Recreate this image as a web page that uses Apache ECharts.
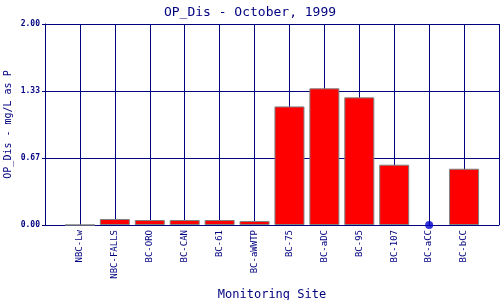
<!DOCTYPE html>
<html>
<head>
<meta charset="utf-8">
<script src="https://cdn.jsdelivr.net/npm/echarts@6/dist/echarts.min.js"></script>
<style>html,body{margin:0;padding:0;background:#fff}#c{width:500px;height:300px}</style>
</head>
<body>
<div id="c"></div>
<script>
const categories = ['NBC-Lw','NBC-FALLS','BC-ORO','BC-CAN','BC-61','BC-aWWTP','BC-75','BC-aDC','BC-95','BC-107','BC-aCC','BC-bCC'];
const values = [0, 0.06, 0.05, 0.05, 0.05, 0.04, 1.18, 1.36, 1.27, 0.60, null, 0.56];
const pointValues = [null, null, null, null, null, null, null, null, null, null, 0, null];
const yTicks = [0, 0.67, 1.33, 2.00];

const navy = '#000080';
const font = 'DejaVu Sans Mono';
const cats = [''].concat(categories, ['']);
const pad = a => [null].concat(a, [null]);

const chart = echarts.init(document.getElementById('c'), null, {renderer: 'canvas'});
chart.setOption({
  animation: false,
  backgroundColor: '#fff',
  title: {
    text: 'OP_Dis - October, 1999', left: 'center', top: 1,
    textStyle: {fontFamily: font, fontSize: 13, fontWeight: 'normal', color: navy}
  },
  grid: {left: 45, right: 1, top: 24, bottom: 75, containLabel: false, outerBoundsMode: 'none'},
  xAxis: {
    type: 'category', data: cats, boundaryGap: false,
    name: 'Monitoring Site', nameLocation: 'middle', nameGap: 64, nameMoveOverlap: false,
    nameTextStyle: {fontFamily: font, fontSize: 12, color: navy},
    axisLine: {lineStyle: {color: navy, width: 1}},
    axisTick: {show: false},
    axisLabel: {rotate: 90, interval: 0, margin: 5, fontFamily: font, fontSize: 9, color: navy},
    splitLine: {show: true, interval: 0, lineStyle: {color: navy, width: 1}}
  },
  yAxis: {
    type: 'value', min: 0, max: 2, interval: 2/3,
    name: 'OP_Dis - mg/L as P', nameLocation: 'middle', nameGap: 32, nameMoveOverlap: false,
    nameTextStyle: {fontFamily: font, fontSize: 10, color: navy},
    axisLine: {show: true, lineStyle: {color: navy, width: 1}},
    axisTick: {show: true, length: 3, lineStyle: {color: navy}},
    axisLabel: {margin: 5, fontFamily: font, fontSize: 8, fontWeight: 'bold', color: navy,
      formatter: (v, i) => yTicks[i] !== undefined ? yTicks[i].toFixed(2) : v.toFixed(2)},
    splitLine: {show: true, lineStyle: {color: navy, width: 1}}
  },
  series: [
    {type: 'bar', data: pad(values), barWidth: 30,
     itemStyle: {color: '#ff0000', borderColor: '#808080', borderWidth: 1}},
    {type: 'scatter', data: pad(pointValues), symbol: 'circle', symbolSize: 8,
     itemStyle: {color: '#0000cc'}, z: 5}
  ]
});
</script>
</body>
</html>
